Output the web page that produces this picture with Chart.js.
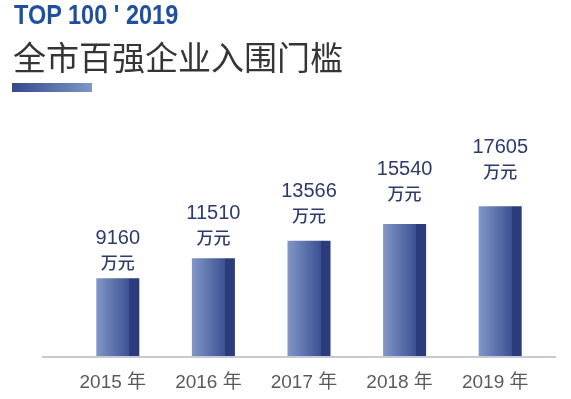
<!DOCTYPE html>
<html>
<head>
<meta charset="utf-8">
<script src="https://cdn.jsdelivr.net/npm/chart.js@4/dist/chart.umd.min.js"></script>
<style>
  html, body { margin: 0; padding: 0; background: #fff; }
  #wrap { position: relative; width: 571px; height: 399px; overflow: hidden; }
  #chart { position: absolute; left: 0; top: 0; }
  #top { position: absolute; left: 14px; top: -1px; font: bold 28px "Liberation Sans", Arial, sans-serif; color: #1f4f9e; transform: scaleX(0.84); transform-origin: 0 0; white-space: nowrap; }
  #title { position: absolute; left: 13px; top: 32px; font: 33px "Noto Sans CJK SC", sans-serif; color: #353535; }
  #bar { position: absolute; left: 12px; top: 83px; width: 80px; height: 9px; background: linear-gradient(to right, #33498c, #7f96c6); }
</style>
</head>
<body>
<div id="wrap">
  <canvas id="chart" width="571" height="399"></canvas>
  <div id="top">TOP 100 ' 2019</div>
  <div id="title">全市百强企业入围门槛</div>
  <div id="bar"></div>
</div>
<script>
// === Datos ===
const years = ["2015 年", "2016 年", "2017 年", "2018 年", "2019 年"];
const values = [9160, 11510, 13566, 15540, 17605];
const unit = "万元";

const BAR_PCT = 0.45;

// degradado de cada barra (claro a oscuro + franja lateral)
function barFill(ctx) {
  const chart = ctx.chart;
  const xs = chart.scales.x;
  const fallback = "#4a5f9e";
  if (!xs) return fallback;
  const cx = xs.getPixelForValue(ctx.dataIndex);
  const w = (xs.width / years.length) * BAR_PCT;
  if (!isFinite(cx) || !isFinite(w) || w <= 0) return fallback;
  const g = chart.ctx.createLinearGradient(cx - w / 2, 0, cx + w / 2, 0);
  g.addColorStop(0, "#8197c8");
  g.addColorStop(0.77, "#3c5192");
  g.addColorStop(0.77, "#2b3b7b");
  g.addColorStop(1, "#2b3b7b");
  return g;
}

// línea base más larga que el área
const baseLine = {
  id: "baseLine",
  beforeDatasetsDraw(chart) {
    const { ctx, chartArea } = chart;
    const y = chart.scales.y.getPixelForValue(0);
    ctx.save();
    ctx.strokeStyle = "#c6cad3";
    ctx.lineWidth = 2;
    ctx.beginPath();
    ctx.moveTo(chartArea.left - 28, y + 1);
    ctx.lineTo(chartArea.right + 8, y + 1);
    ctx.stroke();
    ctx.restore();
  }
};

// etiquetas encima de las barras (se separan más cuanto más alta es la barra)
const topLabels = {
  id: "topLabels",
  afterDatasetsDraw(chart) {
    const { ctx } = chart;
    const meta = chart.getDatasetMeta(0);
    ctx.save();
    ctx.fillStyle = "#2c3a6c";
    ctx.textAlign = "center";
    ctx.textBaseline = "middle";
    meta.data.forEach((bar, i) => {
      const h = bar.base - bar.y;
      const yVal = bar.y - 18 - h * 0.274;
      ctx.font = "20px 'Liberation Sans', Arial, sans-serif";
      ctx.fillText(String(values[i]), bar.x, yVal);
      ctx.font = "500 17px 'Noto Sans CJK SC', sans-serif";
      ctx.fillText(unit, bar.x, yVal + 24);
    });
    ctx.restore();
  }
};

const chart = new Chart(document.getElementById("chart"), {
  type: "bar",
  data: {
    labels: years,
    datasets: [{
      data: values,
      backgroundColor: barFill,
      borderWidth: 0,
      barPercentage: BAR_PCT,
      categoryPercentage: 1
    }]
  },
  options: {
    responsive: false,
    animation: false,
    layout: { padding: { left: 70, right: 23, top: 186, bottom: 0 } },
    plugins: { legend: { display: false }, tooltip: { enabled: false } },
    scales: {
      x: {
        grid: { display: false },
        border: { display: false },
        afterFit: (s) => { s.height = 43; },
        ticks: {
          color: "#5a5a5a",
          font: { family: "'Liberation Sans', 'Noto Sans CJK SC', sans-serif", size: 19 },
          padding: 7,
          maxRotation: 0,
          labelOffset: -5
        }
      },
      y: { display: false, min: 0, max: 20000 }
    }
  },
  plugins: [baseLine, topLabels]
});
chart.update();
</script>
</body>
</html>
